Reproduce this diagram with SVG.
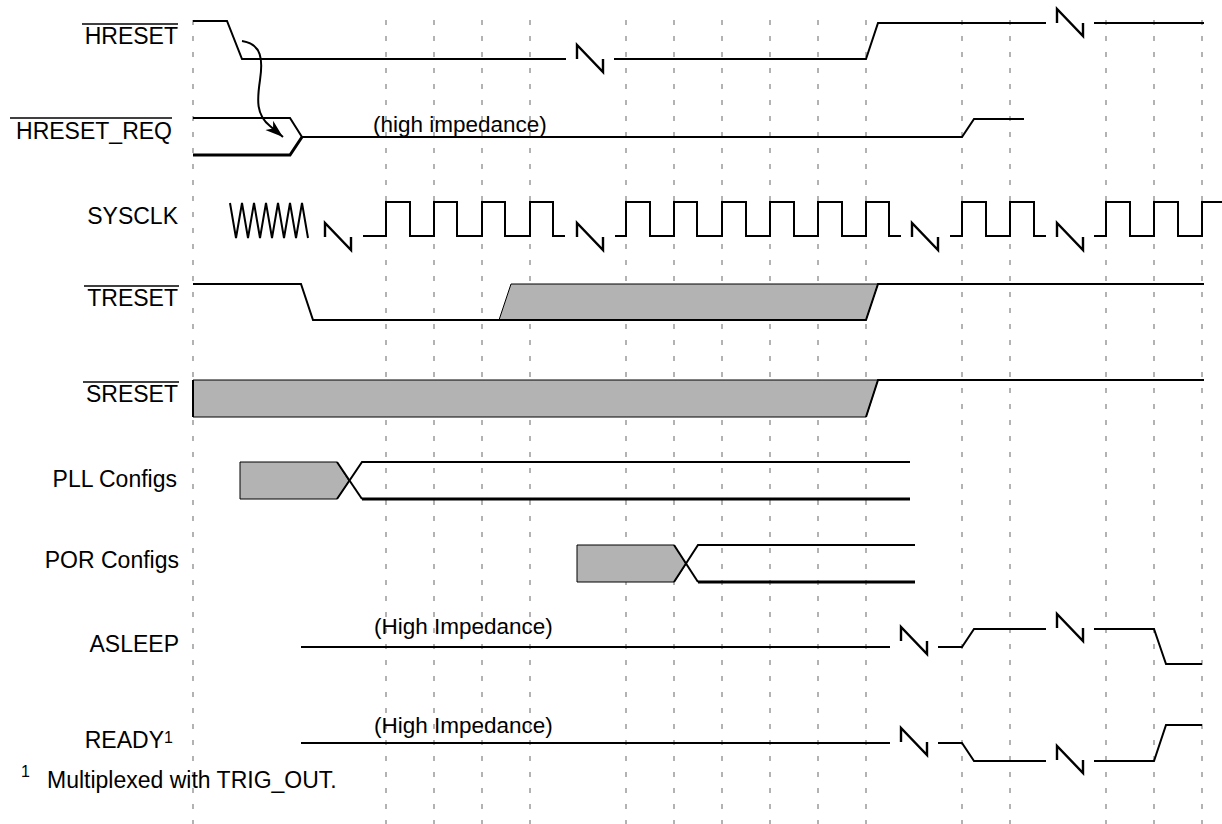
<svg xmlns="http://www.w3.org/2000/svg" width="1222" height="824" viewBox="0 0 1222 824">
<style>
.bg{fill:#fff}
.grid line{stroke:#808080;stroke-width:1.2;stroke-dasharray:5 11}
.lbl{font-family:"Liberation Sans",Arial,Helvetica,sans-serif;font-size:23px;fill:#000}
.note{font-family:"Liberation Sans",Arial,Helvetica,sans-serif;font-size:22.5px;fill:#000}
.sup{font-family:"Liberation Sans",Arial,Helvetica,sans-serif;font-size:16px;fill:#000}
.w{fill:none;stroke:#000;stroke-width:2;stroke-linejoin:miter}
.wt{fill:none;stroke:#000;stroke-width:3}
.ov{stroke:#000;stroke-width:1.6}
.gray{fill:#b3b3b3;stroke:#000;stroke-width:1}
.brk{fill:none;stroke:#000;stroke-width:2.4;stroke-linejoin:miter}
.arr{fill:none;stroke:#000;stroke-width:2}
</style>
<defs>
<path id="brk" d="M0,0 V-14 L26,13 V0"/>
<marker id="ah" markerUnits="userSpaceOnUse" markerWidth="20" markerHeight="14" refX="18" refY="6" orient="auto">
<path d="M0,0 L18,6 L0,12 L5,6 Z" fill="#000"/>
</marker>
</defs>
<rect class="bg" x="0" y="0" width="1222" height="824"/>
<g class="grid" id="grid">
<line x1="193" y1="20" x2="193" y2="824"/>
<line x1="386" y1="20" x2="386" y2="824"/>
<line x1="434" y1="20" x2="434" y2="824"/>
<line x1="482" y1="20" x2="482" y2="824"/>
<line x1="530" y1="20" x2="530" y2="824"/>
<line x1="626" y1="20" x2="626" y2="824"/>
<line x1="674" y1="20" x2="674" y2="824"/>
<line x1="722" y1="20" x2="722" y2="824"/>
<line x1="770" y1="20" x2="770" y2="824"/>
<line x1="818" y1="20" x2="818" y2="824"/>
<line x1="866" y1="20" x2="866" y2="824"/>
<line x1="962" y1="20" x2="962" y2="824"/>
<line x1="1010" y1="20" x2="1010" y2="824"/>
<line x1="1106" y1="20" x2="1106" y2="824"/>
<line x1="1154" y1="20" x2="1154" y2="824"/>
<line x1="1202" y1="20" x2="1202" y2="824"/>
</g>

<g id="hreset">
<text class="lbl" x="178" y="44" text-anchor="end">HRESET</text>
<line class="ov" x1="82" y1="24" x2="178" y2="24"/>
<path class="w" d="M193,21 H227 L242,59 H566"/>
<use href="#brk" class="brk" transform="translate(577,59)"/>
<path class="w" d="M614,59 H866 L878,23 H1046"/>
<use href="#brk" class="brk" transform="translate(1057,23)"/>
<path class="w" d="M1094,23 H1204"/>
</g>

<g id="hreset_req">
<text class="lbl" x="172" y="139" text-anchor="end">HRESET_REQ</text>
<line class="ov" x1="10" y1="118" x2="172" y2="118"/>
<path class="w" d="M193,118 H290 L302,137"/>
<path class="wt" d="M193,155 H290 L302,137"/>
<path class="w" d="M302,137 H962 L974,119 H1024"/>
<text class="note" x="373" y="132">(high impedance)</text>
</g>

<g id="sysclk">
<text class="lbl" x="178" y="224" text-anchor="end">SYSCLK</text>
<path class="w" d="M230,203 L236,238 L242,203 L248,238 L254,203 L260,238 L266,203 L272,238 L278,203 L284,238 L290,203 L296,238 L302,203 L308,238"/>
<use href="#brk" class="brk" transform="translate(325,237)"/>
<path class="w" d="M363,236 H386 V202 H410 V236 H434 V202 H457 V236 H482 V202 H505 V236 H530 V202 H553 V236 H565"/>
<use href="#brk" class="brk" transform="translate(577,237)"/>
<path class="w" d="M615,236 H626 V202 H650 V236 H674 V202 H697 V236 H722 V202 H746 V236 H770 V202 H794 V236 H818 V202 H842 V236 H866 V202 H889 V236 H901"/>
<use href="#brk" class="brk" transform="translate(912,237)"/>
<path class="w" d="M950,236 H962 V202 H986 V236 H1010 V202 H1034 V236 H1046"/>
<use href="#brk" class="brk" transform="translate(1057,237)"/>
<path class="w" d="M1094,236 H1106 V202 H1130 V236 H1154 V202 H1178 V236 H1202 V202 H1222"/>
</g>

<g id="treset">
<text class="lbl" x="178" y="306" text-anchor="end">TRESET</text>
<line class="ov" x1="84" y1="286" x2="179" y2="286"/>
<polygon class="gray" points="499,320 511,284 878,284 866,320"/>
<path class="w" d="M193,284 H301 L313,320 H866 L878,284 H1204"/>
</g>

<g id="sreset">
<text class="lbl" x="178" y="402" text-anchor="end">SRESET</text>
<line class="ov" x1="83" y1="382" x2="179" y2="382"/>
<polygon class="gray" points="193,380 878,380 866,417 193,417"/>
<path class="w" d="M866,417 L878,380 H1204"/>
<path class="w" d="M193,380 V417"/>
</g>

<g id="pll_configs">
<text class="lbl" x="177" y="487" text-anchor="end">PLL Configs</text>
<polygon class="gray" points="240,462 337,462 349,481 337,499 240,499"/>
<path class="w" d="M337,462 L362,499"/>
<path class="w" d="M337,499 L362,462 H910"/>
<path class="wt" d="M362,499 H910"/>
</g>

<g id="por_configs">
<text class="lbl" x="179" y="568" text-anchor="end">POR Configs</text>
<polygon class="gray" points="577,545 674,545 686,564 674,582 577,582"/>
<path class="w" d="M674,545 L698,582"/>
<path class="w" d="M674,582 L698,545 H915"/>
<path class="wt" d="M698,582 H915"/>
</g>

<g id="asleep">
<text class="lbl" x="179" y="652" text-anchor="end">ASLEEP</text>
<text class="note" x="374" y="634">(High Impedance)</text>
<path class="w" d="M301,647 H890"/>
<use href="#brk" class="brk" transform="translate(901,641)"/>
<path class="w" d="M938,647 H962 L974,629 H1046"/>
<use href="#brk" class="brk" transform="translate(1057,628)"/>
<path class="w" d="M1094,629 H1154 L1166,664 H1202"/>
</g>

<g id="ready">
<text class="lbl" x="164" y="748" text-anchor="end">READY</text>
<text class="sup" x="164" y="743">1</text>
<text class="note" x="374" y="733">(High Impedance)</text>
<path class="w" d="M301,743 H890"/>
<use href="#brk" class="brk" transform="translate(901,742)"/>
<path class="w" d="M938,743 H962 L974,761 H1046"/>
<use href="#brk" class="brk" transform="translate(1057,760)"/>
<path class="w" d="M1094,761 H1154 L1166,725 H1202"/>
</g>

<g id="footnote">
<text class="sup" x="21" y="777">1</text>
<text class="lbl" x="47" y="788">Multiplexed with TRIG_OUT.</text>
</g>

<g id="connectors">
<path class="arr" d="M242,41 C262,44 263,60 260,80 C257,100 256,115 270,126 L283,137" marker-end="url(#ah)"/>
</g>
</svg>
